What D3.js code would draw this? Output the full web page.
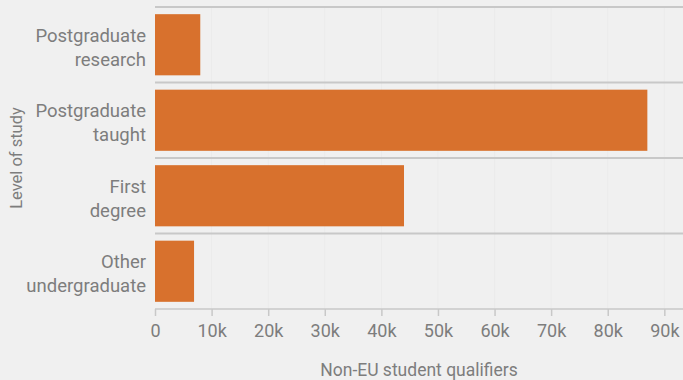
<!DOCTYPE html>
<meta charset="utf-8">
<style>
body { margin: 0; background: #f0f0f0; }
svg { display: block; background: #f0f0f0; }
text { font-family: Roboto, "Open Sans", sans-serif; font-weight: 400; fill: #7d7d7d; }
</style>
<svg width="683" height="380"></svg>
<script src="https://cdn.jsdelivr.net/npm/d3@7"></script>
<script>

// data
var categories = [["Postgraduate", "research"], ["Postgraduate", "taught"], ["First", "degree"], ["Other", "undergraduate"]];
var qualifiers = [8000, 87000, 44000, 6900];
var xTicks = [0, 10000, 20000, 30000, 40000, 50000, 60000, 70000, 80000, 90000];

var svg = d3.select("svg"),
    plotLeft = 155, plotRight = 683, plotTop = 7, plotBottom = 309;

var rows = categories.map(function(c, i) { return { label: c, value: qualifiers[i], key: i }; });

var x = d3.scaleLinear().domain([0, 93300]).range([plotLeft, plotRight]);
var y = d3.scaleBand().domain(d3.range(categories.length)).range([plotTop, plotBottom])
    .paddingInner(0.19).paddingOuter(0.095);

var gap = (y.step() - y.bandwidth()) / 2;

// faint vertical grid
svg.append("g").selectAll("line")
  .data(xTicks.slice(1))
  .enter().append("line")
    .attr("x1", function(d) { return x(d); })
    .attr("x2", function(d) { return x(d); })
    .attr("y1", plotTop).attr("y2", plotBottom)
    .attr("stroke", "#ebebeb").attr("stroke-width", 1);

// bars
svg.append("g").selectAll("rect")
  .data(rows)
  .enter().append("rect")
    .attr("x", x(0))
    .attr("y", function(d) { return y(d.key); })
    .attr("width", function(d) { return x(d.value) - x(0); })
    .attr("height", y.bandwidth())
    .attr("fill", "#d8712d");

// separators between categories
var seps = [plotTop].concat(rows.slice(1).map(function(d) { return y(d.key) - gap; }));
svg.append("g").selectAll("line")
  .data(seps)
  .enter().append("line")
    .attr("x1", plotLeft).attr("x2", plotRight)
    .attr("y1", function(d) { return d; })
    .attr("y2", function(d) { return d; })
    .attr("stroke", "#c8c8c8").attr("stroke-width", 2);

// x axis
var xAxis = svg.append("g")
    .attr("transform", "translate(0," + plotBottom + ")")
    .call(d3.axisBottom(x).tickValues(xTicks).tickSize(7).tickPadding(8)
      .tickFormat(function(d) { return d === 0 ? "0" : d / 1000 + "k"; }));
xAxis.select(".domain").attr("stroke", "#c8c8c8").attr("stroke-width", 1.5)
    .attr("d", "M" + plotLeft + ",0H" + plotRight);
xAxis.selectAll(".tick line").attr("stroke", "#c8c8c8").attr("stroke-width", 1.5);
xAxis.selectAll(".tick text").attr("font-size", 18).attr("fill", "#7d7d7d")
    .style("font-family", "Roboto, sans-serif");

// category labels
var labels = svg.append("g").selectAll("text")
  .data(rows)
  .enter().append("text")
    .attr("text-anchor", "end")
    .attr("font-size", 18.5)
    .attr("x", 146)
    .attr("y", function(d) { return y(d.key) + y.bandwidth() / 2; });
labels.append("tspan")
    .attr("x", 146).attr("dy", -3)
    .text(function(d) { return d.label[0]; });
labels.append("tspan")
    .attr("x", 146).attr("dy", 24)
    .text(function(d) { return d.label[1]; });

// axis titles
svg.append("text")
    .attr("x", (plotLeft + plotRight) / 2)
    .attr("y", 376)
    .attr("text-anchor", "middle")
    .attr("font-size", 17.5)
    .text("Non-EU student qualifiers");

svg.append("text")
    .attr("transform", "translate(22," + (plotTop + plotBottom) / 2 + ") rotate(-90)")
    .attr("text-anchor", "middle")
    .attr("font-size", 16.5)
    .text("Level of study");

</script>
